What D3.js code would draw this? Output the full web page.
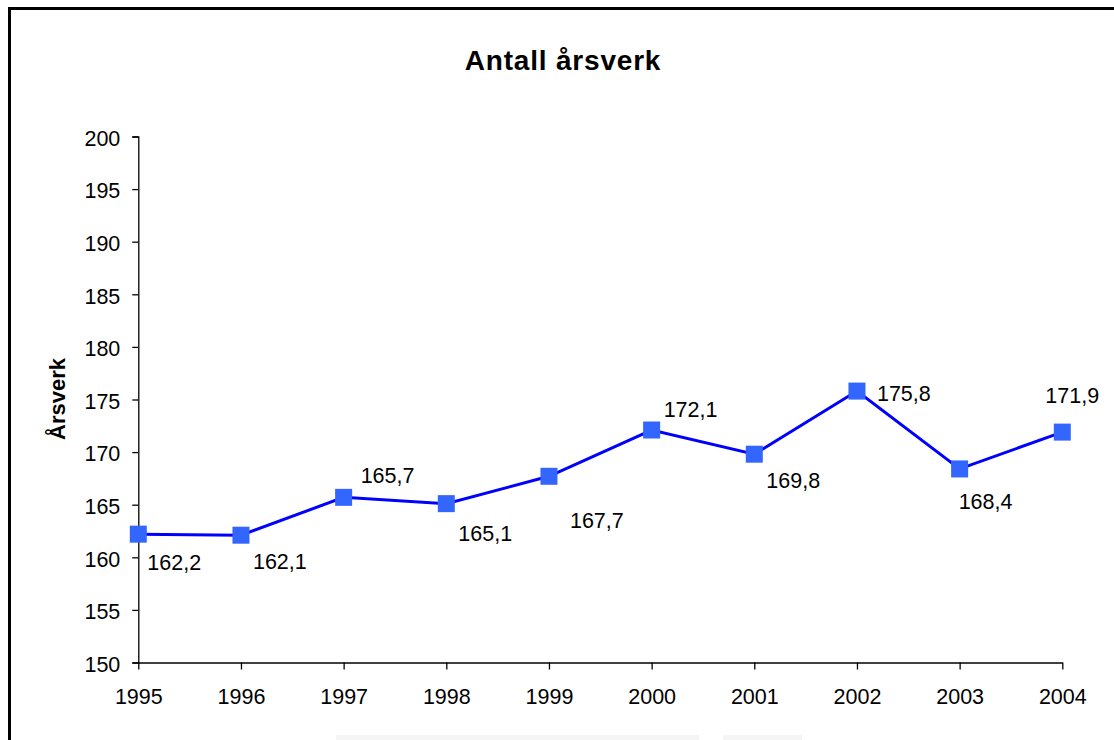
<!DOCTYPE html>
<html>
<head>
<meta charset="utf-8">
<script src="https://cdn.jsdelivr.net/npm/d3@7"></script>
<style>
  html, body { margin: 0; padding: 0; background: #fff; }
  svg { display: block; font-family: "Liberation Sans", Arial, sans-serif; }
</style>
</head>
<body>
<svg width="1114" height="740"></svg>
<script>
// data
const years = ['1995', '1996', '1997', '1998', '1999', '2000', '2001', '2002', '2003', '2004'];
const values = [162.2, 162.1, 165.7, 165.1, 167.7, 172.1, 169.8, 175.8, 168.4, 171.9];
const yTicks = [150, 155, 160, 165, 170, 175, 180, 185, 190, 195, 200];
// hand-placed data labels, offset from each point [dx, dy]
const labelOffsets = [[9, 36], [12, 34], [17, -14], [12, 37], [21, 52], [12, -13], [12, 34], [20, 10], [-1, 40], [-17, -29]];

const svg = d3.select('svg');

// outer frame (only top/left visible in the picture)
svg.append('rect')
  .attr('x', 9.5).attr('y', 8.5)
  .attr('width', 1200).attr('height', 800)
  .attr('fill', 'none')
  .attr('stroke', '#000')
  .attr('stroke-width', 3);

// faint strips at the very bottom
svg.append('rect').attr('x', 336).attr('y', 735).attr('width', 363).attr('height', 5).attr('fill', '#f5f5f5');
svg.append('rect').attr('x', 723).attr('y', 735).attr('width', 79).attr('height', 5).attr('fill', '#f5f5f5');

const x = d3.scalePoint()
  .domain(years)
  .range([138.3, 1062.3]);
const y = d3.scaleLinear()
  .domain([150, 200])
  .range([662.5, 136.5]);

// title
svg.append('text')
  .attr('x', 563)
  .attr('y', 70)
  .attr('text-anchor', 'middle')
  .attr('font-size', 28)
  .attr('font-weight', 'bold')
  .attr('letter-spacing', 0.8)
  .text('Antall årsverk');

// y axis title
svg.append('text')
  .attr('transform', 'translate(65, 399) rotate(-90)')
  .attr('text-anchor', 'middle')
  .attr('font-size', 22)
  .attr('font-weight', 'bold')
  .text('Årsverk');

// axes
const yAxis = svg.append('g')
  .attr('transform', `translate(${x('1995')}, 0)`)
  .call(d3.axisLeft(y).tickValues(yTicks).tickSize(6).tickPadding(12).tickFormat(d3.format('d')));
yAxis.select('.domain').attr('stroke', '#000').attr('stroke-width', 1.3);
yAxis.selectAll('.tick line').attr('stroke', '#000').attr('stroke-width', 1.3);
yAxis.selectAll('.tick text')
  .attr('y', 2)
  .attr('font-size', 21.5)
  .attr('font-family', '"Liberation Sans", Arial, sans-serif')
  .attr('fill', '#000');

const xAxis = svg.append('g')
  .attr('transform', `translate(0, ${y(150)})`)
  .call(d3.axisBottom(x).tickSize(7).tickPadding(19).tickSizeOuter(0));
xAxis.select('.domain').attr('stroke', '#000').attr('stroke-width', 1.3);
xAxis.selectAll('.tick line').attr('stroke', '#000').attr('stroke-width', 1.3);
xAxis.selectAll('.tick text')
  .attr('font-size', 21.5)
  .attr('font-family', '"Liberation Sans", Arial, sans-serif')
  .attr('fill', '#000');

// series line
const line = d3.line()
  .x((d, i) => x(years[i]))
  .y(d => y(d));
svg.append('path')
  .datum(values)
  .attr('d', line)
  .attr('fill', 'none')
  .attr('stroke', '#0000ff')
  .attr('stroke-width', 3);

// markers
const ms = 17;
svg.selectAll('.marker')
  .data(values)
  .enter()
  .append('rect')
  .classed('marker', true)
  .attr('x', (d, i) => x(years[i]) - ms / 2)
  .attr('y', d => y(d) - ms / 2)
  .attr('width', ms)
  .attr('height', ms)
  .attr('fill', '#3366ff');

// data labels
svg.selectAll('.label')
  .data(values)
  .enter()
  .append('text')
  .classed('label', true)
  .attr('x', (d, i) => x(years[i]) + labelOffsets[i][0])
  .attr('y', (d, i) => y(d) + labelOffsets[i][1])
  .attr('font-size', 21.5)
  .text(d => d3.format('.1f')(d).replace('.', ','));
</script>
</body>
</html>
